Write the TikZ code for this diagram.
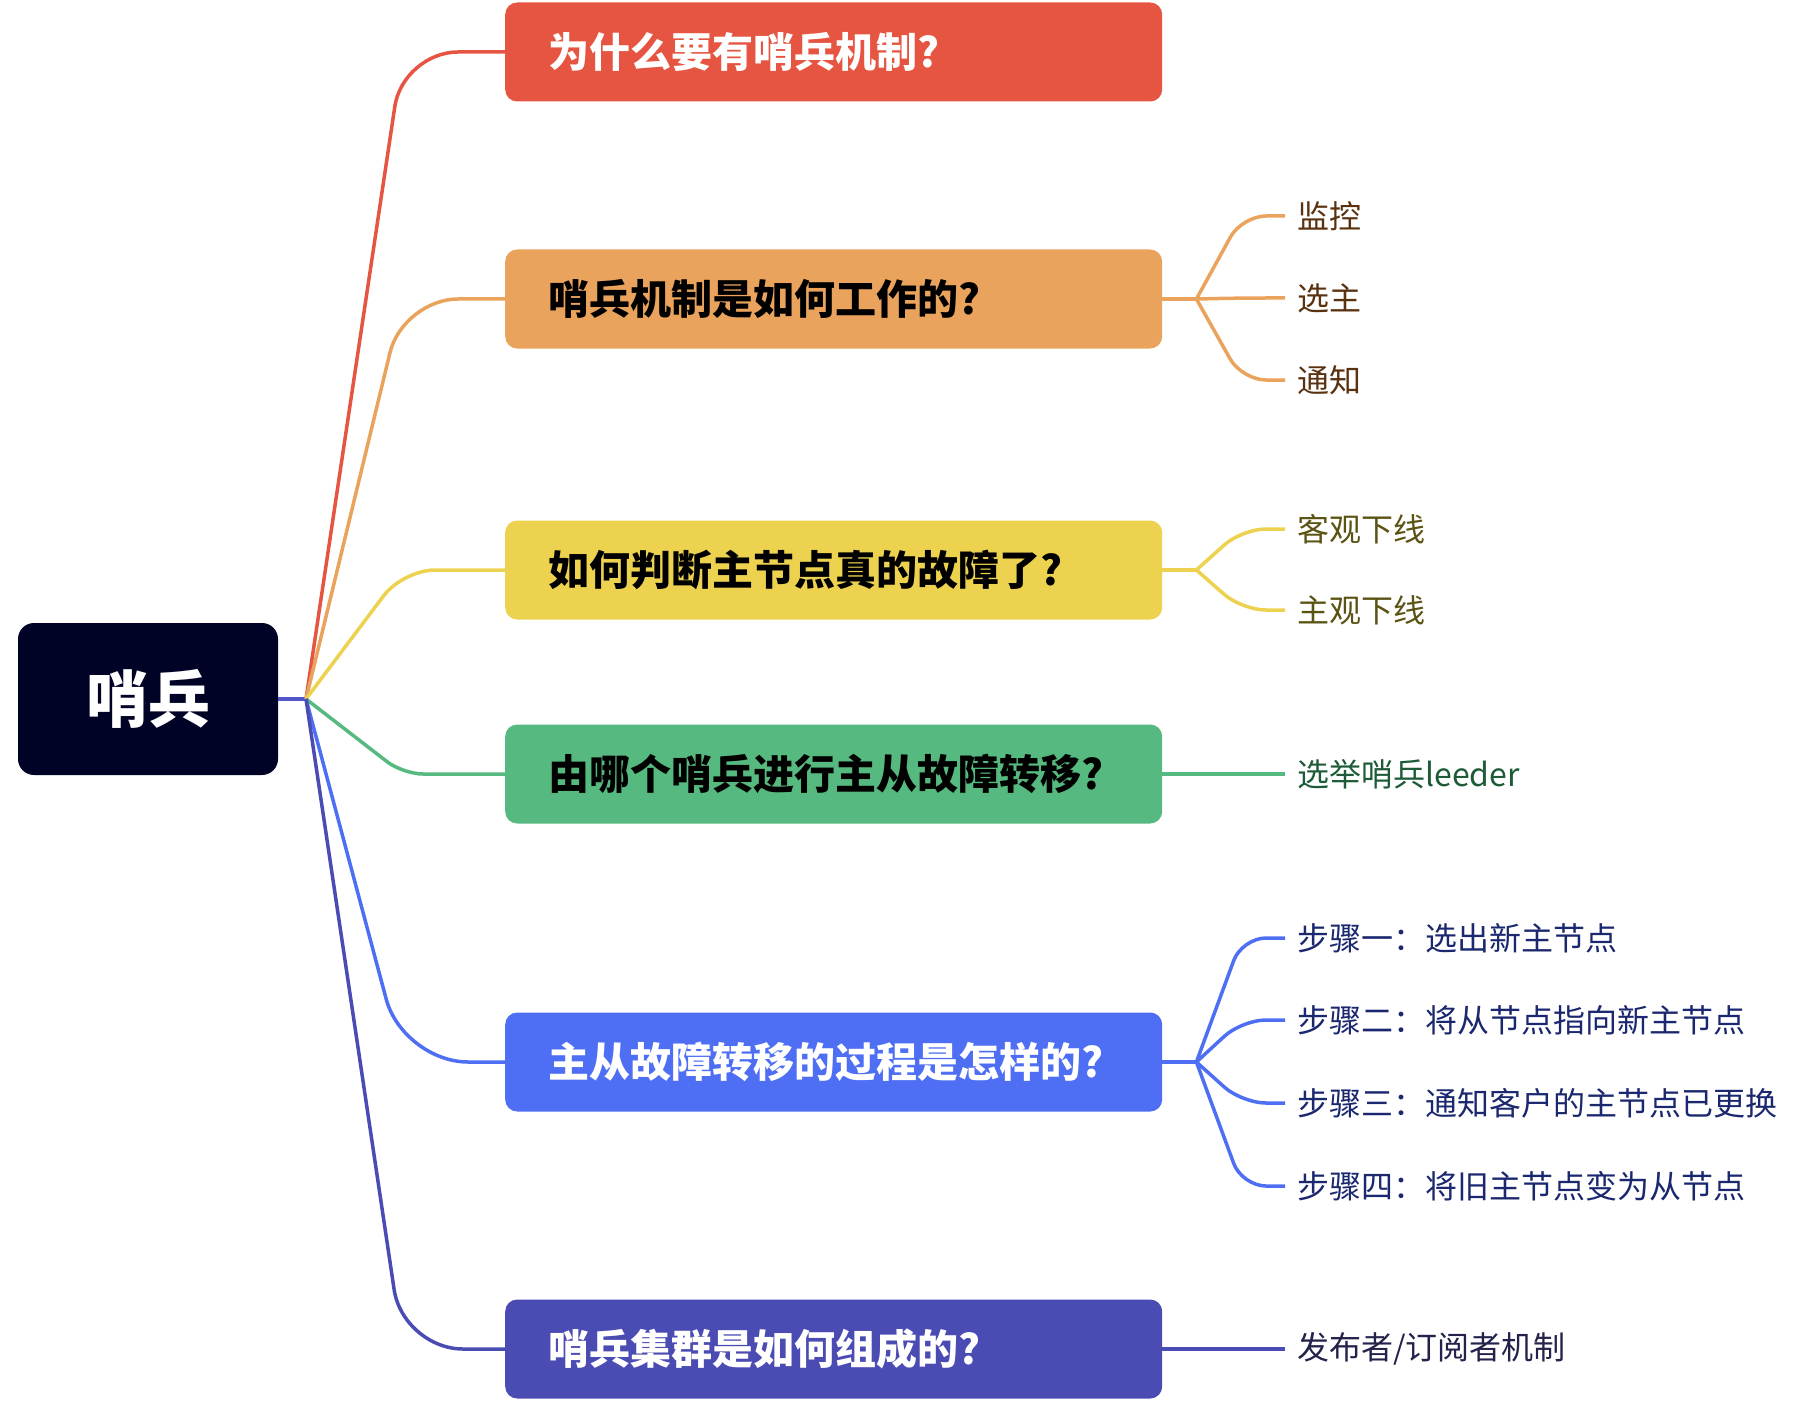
\documentclass[tikz,border=0pt]{standalone}
\usepackage{fontspec}
\setmainfont{Noto Sans CJK SC}
\usetikzlibrary{positioning}

\definecolor{rootbg}{HTML}{000226}
\definecolor{hubline}{HTML}{5256C6}
\definecolor{cred}{HTML}{E65541}
\definecolor{corange}{HTML}{EAA35C}
\definecolor{cyellow}{HTML}{ECD24F}
\definecolor{cgreen}{HTML}{56B97F}
\definecolor{cblue}{HTML}{4E6FF4}
\definecolor{cpurple}{HTML}{4B4BB4}
\definecolor{torange}{HTML}{5A3210}
\definecolor{tyellow}{HTML}{5B5313}
\definecolor{tgreen}{HTML}{1E5C39}
\definecolor{tblue}{HTML}{1B276E}
\definecolor{tpurple}{HTML}{22224A}

\tikzset{
  rootbox/.style={fill=rootbg, text=white, rounded corners=16pt,
    minimum width=260pt, minimum height=152pt,
    font=\fontsize{62}{62}\selectfont\bfseries},
  topic/.style={anchor=west, rounded corners=12pt, minimum width=657pt,
    minimum height=99pt, text width=571pt, inner xsep=43pt, align=left,
    font=\fontsize{41}{41}\selectfont\bfseries},
  leaf/.style={anchor=west, inner xsep=12pt, font=\fontsize{32}{32}\selectfont},
  branch/.style={line width=3.5pt},
}

\begin{document}
\begin{tikzpicture}[x=1pt,y=-1pt]
\useasboundingbox (0,0) rectangle (1814,1404);

% central topic
\node[rootbox] (root) at (148,699) {哨兵};
\coordinate (hub) at (306,699);
\draw[branch, hubline] (root.east) -- (hub);

% main topics: name/y/colour/text colour/text/corner radius
\foreach \name/\y/\col/\tc/\body/\r in {
    why/52/cred/white/为什么要有哨兵机制?/55,
    how/299/corange/black/哨兵机制是如何工作的?/55,
    judge/570/cyellow/black/如何判断主节点真的故障了?/32,
    who/774/cgreen/black/由哪个哨兵进行主从故障转移?/20,
    proc/1062/cblue/white/主从故障转移的过程是怎样的?/65,
    group/1349/cpurple/white/哨兵集群是如何组成的?/60} {
    \node[topic, fill=\col, text=\tc] (\name) at (505,\y) {\body};
    \draw[branch, \col, rounded corners=\r pt] (hub) -- (403,\y) -- (\name.west);
}

% junctions right of the topics
\foreach \name/\col in {how/corange, judge/cyellow, who/cgreen, proc/cblue, group/cpurple} {
    \coordinate (\name-j) at ([xshift=34pt]\name.east);
    \draw[branch, \col] (\name.east) -- (\name-j);
}

% subtopics: parent/id/y/colour/text colour/text
\foreach \p/\n/\y/\col/\tc/\body in {
    how/a/216/corange/torange/监控,
    how/b/298/corange/torange/选主,
    how/c/380/corange/torange/通知,
    judge/a/529/cyellow/tyellow/客观下线,
    judge/b/610/cyellow/tyellow/主观下线,
    who/a/774/cgreen/tgreen/选举哨兵leeder,
    proc/a/938/cblue/tblue/步骤一：选出新主节点,
    proc/b/1020/cblue/tblue/步骤二：将从节点指向新主节点,
    proc/c/1103/cblue/tblue/步骤三：通知客户的主节点已更换,
    proc/d/1186/cblue/tblue/步骤四：将旧主节点变为从节点,
    group/a/1349/cpurple/tpurple/{发布者/订阅者机制}} {
    \node[leaf, text=\tc] (\p-\n) at (1285,\y) {\body};
    \draw[branch, \col, rounded corners=24pt] (\p-j) -- (1242,\y) -- (\p-\n.west);
}

\end{tikzpicture}
\end{document}
